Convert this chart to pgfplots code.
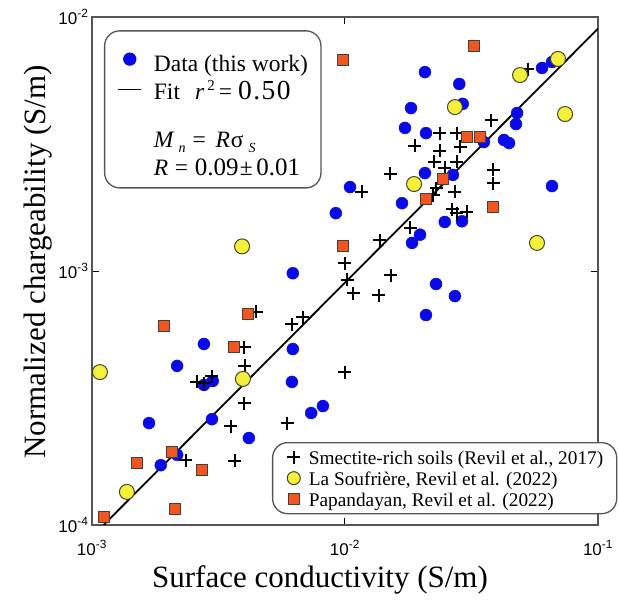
\documentclass[border=0pt]{standalone}
\usepackage{fontspec}
\setmainfont{Liberation Serif}
\newfontfamily\arialf{Liberation Sans}
\usepackage{pgfplots}
\pgfplotsset{compat=1.18}
\definecolor{dblue}{RGB}{10,10,230}
\definecolor{yel}{RGB}{245,240,60}
\definecolor{yeledge}{RGB}{70,70,40}
\definecolor{orng}{RGB}{242,85,30}
\definecolor{axgray}{RGB}{85,85,85}
\newcommand{\strAa}{\rule[-7pt]{0pt}{37pt}}
\newcommand{\strAb}{\rule[-7pt]{0pt}{31pt}}
\newcommand{\strB}{\rule[-5pt]{0pt}{48pt}}
\newcommand{\strAd}{\rule[-15pt]{0pt}{39pt}}
\newcommand{\strC}{\rule[-5pt]{0pt}{20.5pt}}
\newcommand{\strCl}{\rule[-17pt]{0pt}{32.5pt}}
\newcommand{\dg}{\fontsize{25}{27}\selectfont}
\newcommand{\dgb}{\fontsize{27.5}{29}\selectfont}
\begin{document}
\begin{tikzpicture}
\useasboundingbox (0,0) rectangle (619pt,600pt);
\begin{axis}[
  at={(92pt,75pt)}, anchor=south west,
  scale only axis, width=506pt, height=508pt,
  xmode=log, ymode=log,
  xmin=1e-3, xmax=1e-1, ymin=1e-4, ymax=1e-2,
  xtick={1e-3,1e-2,1e-1}, ytick={1e-4,1e-3,1e-2},
  xticklabels={10\textsuperscript{-3},10\textsuperscript{-2},10\textsuperscript{-1}},
  yticklabels={10\textsuperscript{-4},10\textsuperscript{-3},10\textsuperscript{-2}},
  xminorticks=false, yminorticks=false,
  tick align=inside, major tick length=7pt,
  tick style={black, line width=1pt},
  axis line style={axgray, line width=1.6pt},
  ticklabel style={font=\arialf\fontsize{17}{20}\selectfont},
  xticklabel style={yshift=-12pt},
  xlabel={Surface conductivity (S/m)},
  ylabel={Normalized chargeability (S/m)},
  label style={font=\fontsize{31}{36}\selectfont},
  xlabel style={at={(axis description cs:0.4506,-0.1083)}, anchor=center},
  ylabel style={at={(axis description cs:-0.1067,0.518)}, anchor=center},
  legend cell align=left,
  legend style={at={(axis description cs:0.0237,0.974)}, anchor=north west,
    draw=axgray, line width=1.3pt, rounded corners=15pt, fill=white,
    font=\fontsize{23.5}{27}\selectfont,
    inner xsep=13pt, inner ysep=10.5pt, row sep=3pt,
    nodes={inner xsep=0pt, inner ysep=0pt},
    /tikz/every odd column/.append style={column sep=12pt}},
]
% fit line
\addplot[forget plot, black, line width=1.8pt] coordinates {(1.1111e-3,1e-4) (0.1,9e-3)};
% data (this work)
\addplot[forget plot, only marks, mark=*, mark size=6pt, mark options={fill=dblue, draw=dblue}] table {
0.0658 6.65e-3
0.0601 6.30e-3
0.0207 6.07e-3
0.0283 5.45e-3
0.0292 4.55e-3
0.01824 4.38e-3
0.0479 4.19e-3
0.0474 3.79e-3
0.01726 3.66e-3
0.0209 3.49e-3
0.0354 3.22e-3
0.0425 3.28e-3
0.0445 3.19e-3
0.0207 2.43e-3
0.0267 2.39e-3
0.01047 2.14e-3
0.0658 2.16e-3
0.0168 1.85e-3
0.0092 1.69e-3
0.0248 1.56e-3
0.0290 1.57e-3
0.0198 1.39e-3
0.0184 1.29e-3
0.00622 9.8e-4
0.0229 8.89e-4
0.0272 7.97e-4
0.0209 6.71e-4
0.00277 5.16e-4
0.00217 4.23e-4
0.00622 4.93e-4
0.00277 3.56e-4
0.0030 3.69e-4
0.00617 3.66e-4
0.00818 2.94e-4
0.00735 2.76e-4
0.00168 2.52e-4
0.00298 2.61e-4
0.00417 2.20e-4
0.00217 1.89e-4
0.00187 1.72e-4
};
% smectite-rich soils
\addplot[forget plot, only marks, mark=+, mark size=6.5pt, mark options={black, line width=2pt}] table {
0.0528 6.24e-3
0.0378 3.93e-3
0.0237 3.49e-3
0.0277 3.49e-3
0.0189 3.11e-3
0.0285 3.08e-3
0.0237 2.97e-3
0.0225 2.69e-3
0.0277 2.69e-3
0.0248 2.55e-3
0.01507 2.41e-3
0.0385 2.50e-3
0.0385 2.22e-3
0.01167 2.05e-3
0.0229 2.12e-3
0.0223 1.99e-3
0.0272 2.05e-3
0.0265 1.75e-3
0.0277 1.69e-3
0.0303 1.71e-3
0.0181 1.48e-3
0.01374 1.32e-3
0.0100 1.075e-3
0.0102 9.22e-4
0.01076 8.19e-4
0.0152 9.64e-4
0.0136 8.04e-4
0.0100 4.0e-4
0.00445 6.90e-4
0.00617 6.18e-4
0.00682 6.59e-4
0.00399 5.02e-4
0.00402 4.23e-4
0.0026 3.66e-4
0.00277 3.62e-4
0.00298 3.86e-4
0.00399 3.02e-4
0.00354 2.45e-4
0.0059 2.52e-4
0.00367 1.79e-4
0.00235 1.80e-4
};
% La Soufriere
\addplot[forget plot, only marks, mark=*, mark size=7.5pt, mark options={fill=yel, draw=yeledge, line width=1pt}] table {
0.0695 6.84e-3
0.0492 5.91e-3
0.0272 4.42e-3
0.0741 4.15e-3
0.01875 2.20e-3
0.0574 1.29e-3
0.00392 1.25e-3
0.00395 3.76e-4
0.001075 4.0e-4
0.001374 1.35e-4
};
% Papandayan
\addplot[forget plot, only marks, mark=square*, mark size=5.5pt, mark options={fill=orng, draw=black!75, line width=1pt}] table {
0.0324 7.69e-3
0.0098 6.77e-3
0.0303 3.37e-3
0.0342 3.37e-3
0.0244 2.30e-3
0.0209 1.92e-3
0.0385 1.79e-3
0.0098 1.25e-3
0.00193 6.07e-4
0.00414 6.77e-4
0.00364 5.02e-4
0.00207 1.94e-4
0.001507 1.75e-4
0.00272 1.65e-4
0.00213 1.156e-4
0.001115 1.075e-4
};
\addlegendimage{legend image code/.code={\path (0pt,0pt) (23pt,0pt); \fill[dblue] (11.5pt,-2pt) circle (6pt);}}
\addlegendentry{\strAa Data (this work)\hspace{7pt}}
\addlegendimage{legend image code/.code={\draw[sharp corners, black, line width=1.3pt] (0pt,-1pt) -- (23pt,-1pt);}}
\addlegendentry{\strAb Fit\hspace{15pt}\textit{r}\hspace{3pt}\raisebox{9pt}{\fontsize{15}{15}\selectfont 2}\hspace{4pt}=\hspace{6pt}{\dgb 0\hspace{1.5pt}.\hspace{1.5pt}5\hspace{1.5pt}0}}
\addlegendimage{empty legend}
\addlegendentry{\strB\textit{M}\hspace{4pt}\raisebox{-5pt}{\fontsize{14}{14}\selectfont\itshape n}\hspace{7pt}=\hspace{9.7pt}\textit{R}\hspace{1pt}σ\hspace{5pt}\raisebox{-5pt}{\fontsize{14}{14}\selectfont\itshape S}}
\addlegendimage{empty legend}
\addlegendentry{\strAd\textit{R}\hspace{6.6pt}=\hspace{6.7pt}{\dg 0.09}\hspace{1.3pt}±\hspace{3.7pt}{\dg 0.01}}
\end{axis}
\begin{axis}[
  at={(92pt,75pt)}, anchor=south west,
  scale only axis, width=506pt, height=508pt,
  xmode=log, ymode=log,
  xmin=1e-3, xmax=1e-1, ymin=1e-4, ymax=1e-2,
  hide axis,
  legend cell align=left,
  legend style={at={(axis description cs:0.3557,0.1634)}, anchor=north west,
    draw=axgray, line width=1.3pt, rounded corners=15pt, fill=white,
    font=\fontsize{19.3}{21}\selectfont,
    inner xsep=13.5pt, inner ysep=6pt, row sep=4pt,
    nodes={inner xsep=0pt, inner ysep=0pt},
    /tikz/every odd column/.append style={column sep=7.5pt}},
]
\addlegendimage{legend image code/.code={\path (0pt,0pt) (14pt,0pt); \draw[sharp corners, black, line width=2pt] (7pt,-6.5pt) -- (7pt,6.5pt) (0.5pt,0pt) -- (13.5pt,0pt);}}
\addlegendentry{\strC Smectite-rich soils (Revil et al., 2017)}
\addlegendimage{legend image code/.code={\path (0pt,0pt) (14pt,0pt); \draw[fill=yel, draw=yeledge, line width=1pt] (7pt,0pt) circle (6.5pt);}}
\addlegendentry{\strC La Soufrière, Revil et al. (2022)}
\addlegendimage{legend image code/.code={\path (0pt,0pt) (14pt,0pt); \draw[sharp corners, fill=orng, draw=black!75, line width=1pt] (1.5pt,-5.5pt) rectangle (12.5pt,5.5pt);}}
\addlegendentry{\strCl Papandayan, Revil et al. (2022)}
\end{axis}
\end{tikzpicture}
\end{document}
